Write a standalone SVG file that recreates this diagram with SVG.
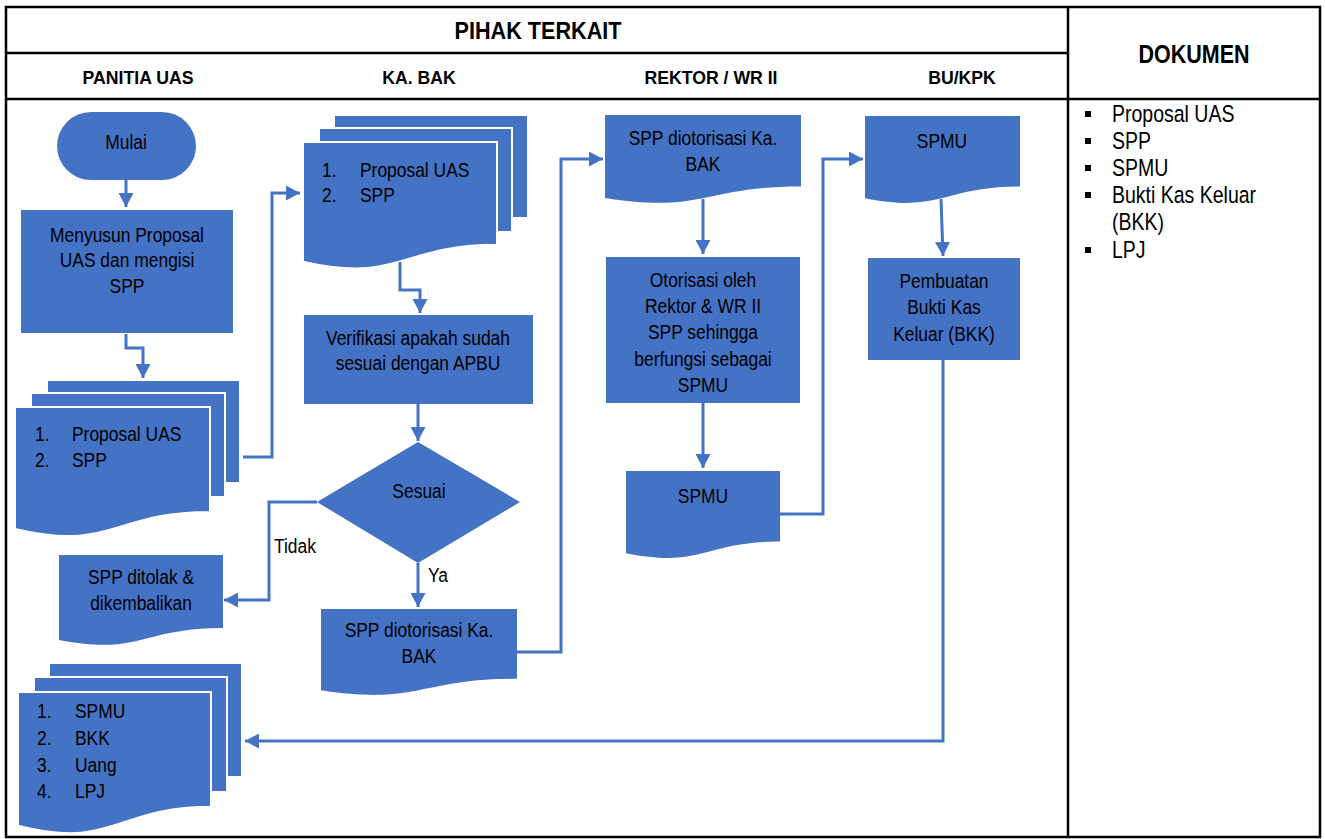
<svg xmlns="http://www.w3.org/2000/svg" width="1325" height="839" viewBox="0 0 1325 839">
<style>
.t{font-family:"Liberation Sans",Arial,sans-serif;font-size:21px;fill:#000}
.c{text-anchor:middle}
.b{font-weight:bold}
.n{fill:#4472C4;stroke:none}
.pg{fill:#4472C4;stroke:#fff;stroke-width:2}
.grid{fill:none;stroke:#000;stroke-width:2.5}
.cn{fill:none;stroke:#4472C4;stroke-width:3}
</style>
<defs>
<marker id="ah" markerUnits="userSpaceOnUse" viewBox="0 0 14 15" refX="14" refY="7.5" markerWidth="14" markerHeight="15" orient="auto">
<path d="M0,0 L14,7.5 L0,15 Z" fill="#4472C4"/>
</marker>
</defs>
<rect width="1325" height="839" fill="#fff"/>
<g id="table">
<rect class="grid" x="6" y="7" width="1314" height="830"/>
<line class="grid" x1="6" y1="53" x2="1068" y2="53"/>
<line class="grid" x1="6" y1="99" x2="1320" y2="99"/>
<line class="grid" x1="1068" y1="7" x2="1068" y2="837"/>
<text class="t c b" transform="matrix(0.94 0 0 1 538 39)" style="font-size:23px">PIHAK TERKAIT</text>
<text class="t c b" transform="matrix(0.86 0 0 1 1194 63)" style="font-size:25px">DOKUMEN</text>
<text class="t c b" transform="matrix(0.93 0 0 1 138 84)" style="font-size:19px">PANITIA UAS</text>
<text class="t c b" transform="matrix(0.93 0 0 1 419 84)" style="font-size:19px">KA. BAK</text>
<text class="t c b" transform="matrix(0.93 0 0 1 711 84)" style="font-size:19px">REKTOR / WR II</text>
<text class="t c b" transform="matrix(0.93 0 0 1 962 84)" style="font-size:19px">BU/KPK</text>
</g>
<g id="dokumen-list">
<rect x="1085" y="111" width="6" height="6" fill="#000"/>
<rect x="1085" y="138" width="6" height="6" fill="#000"/>
<rect x="1085" y="165" width="6" height="6" fill="#000"/>
<rect x="1085" y="192" width="6" height="6" fill="#000"/>
<rect x="1085" y="247" width="6" height="6" fill="#000"/>
<text class="t" transform="matrix(0.83 0 0 1 1112 122)" style="font-size:23.5px">Proposal UAS</text>
<text class="t" transform="matrix(0.83 0 0 1 1112 149)" style="font-size:23.5px">SPP</text>
<text class="t" transform="matrix(0.83 0 0 1 1112 176)" style="font-size:23.5px">SPMU</text>
<text class="t" transform="matrix(0.83 0 0 1 1112 203)" style="font-size:23.5px">Bukti Kas Keluar</text>
<text class="t" transform="matrix(0.83 0 0 1 1112 230)" style="font-size:23.5px">(BKK)</text>
<text class="t" transform="matrix(0.83 0 0 1 1112 258)" style="font-size:23.5px">LPJ</text>
</g>
<g id="mulai">
<rect class="n" x="57" y="112" width="139" height="68" rx="34" ry="34"/>
<text class="t c" transform="matrix(0.83 0 0 1 126 149)">Mulai</text>
</g>
<g id="menyusun">
<rect class="n" x="21" y="210" width="212" height="123"/>
<text class="t c" transform="matrix(0.83 0 0 1 127 242)">Menyusun Proposal</text>
<text class="t c" transform="matrix(0.83 0 0 1 127 267)">UAS dan mengisi</text>
<text class="t c" transform="matrix(0.83 0 0 1 127 293)">SPP</text>
</g>
<g id="stack1">
<rect class="pg" x="47" y="380" width="193" height="103"/>
<rect class="pg" x="31" y="393" width="194" height="104"/>
<path class="pg" d="M15,407 H210 V512 C112.5,512 112.5,552 15,529 Z"/>
<text class="t" transform="matrix(0.83 0 0 1 35 441)">1.</text>
<text class="t" transform="matrix(0.83 0 0 1 72 441)">Proposal UAS</text>
<text class="t" transform="matrix(0.83 0 0 1 35 467)">2.</text>
<text class="t" transform="matrix(0.83 0 0 1 72 467)">SPP</text>
</g>
<g id="stack2">
<rect class="pg" x="334" y="115" width="194" height="103"/>
<rect class="pg" x="319" y="128" width="193" height="104"/>
<path class="pg" d="M303,142 H497 V244.7 C400,244.7 400,283.8 303,261.6 Z"/>
<text class="t" transform="matrix(0.83 0 0 1 322 177)">1.</text>
<text class="t" transform="matrix(0.83 0 0 1 360 177)">Proposal UAS</text>
<text class="t" transform="matrix(0.83 0 0 1 322 202)">2.</text>
<text class="t" transform="matrix(0.83 0 0 1 360 202)">SPP</text>
</g>
<g id="verifikasi">
<rect class="n" x="304" y="315" width="229" height="89"/>
<text class="t c" transform="matrix(0.83 0 0 1 418 345)">Verifikasi apakah sudah</text>
<text class="t c" transform="matrix(0.83 0 0 1 418 370)">sesuai dengan APBU</text>
</g>
<g id="sesuai">
<path class="n" d="M418,442 L520,502 L418,563 L317,502 Z"/>
<text class="t c" transform="matrix(0.83 0 0 1 419 498)">Sesuai</text>
</g>
<g id="ditolak">
<path class="n" d="M59,555 H223 V628 C141,628 141,655.8 59,640 Z"/>
<text class="t c" transform="matrix(0.83 0 0 1 141 584)">SPP ditolak &amp;</text>
<text class="t c" transform="matrix(0.83 0 0 1 141 610)">dikembalikan</text>
</g>
<g id="otorisasi-kabak">
<path class="n" d="M321,609 H517 V678.8 C419,678.8 419,705.4 321,690.3 Z"/>
<text class="t c" transform="matrix(0.83 0 0 1 419 637)">SPP diotorisasi Ka.</text>
<text class="t c" transform="matrix(0.83 0 0 1 419 663)">BAK</text>
</g>
<g id="stack3">
<rect class="pg" x="49" y="663" width="193" height="114"/>
<rect class="pg" x="34" y="677" width="193" height="115"/>
<path class="pg" d="M18,692 H211 V806.7 C114.5,806.7 114.5,850.4 18,825.6 Z"/>
<text class="t" transform="matrix(0.83 0 0 1 37 718)">1.</text>
<text class="t" transform="matrix(0.83 0 0 1 75 718)">SPMU</text>
<text class="t" transform="matrix(0.83 0 0 1 37 745)">2.</text>
<text class="t" transform="matrix(0.83 0 0 1 75 745)">BKK</text>
<text class="t" transform="matrix(0.83 0 0 1 37 772)">3.</text>
<text class="t" transform="matrix(0.83 0 0 1 75 772)">Uang</text>
<text class="t" transform="matrix(0.83 0 0 1 37 798)">4.</text>
<text class="t" transform="matrix(0.83 0 0 1 75 798)">LPJ</text>
</g>
<g id="spp-rektor">
<path class="n" d="M605,115 H801 V186.4 C703,186.4 703,213.6 605,198.1 Z"/>
<text class="t c" transform="matrix(0.83 0 0 1 703 145)">SPP diotorisasi Ka.</text>
<text class="t c" transform="matrix(0.83 0 0 1 703 171)">BAK</text>
</g>
<g id="otorisasi-rektor">
<rect class="n" x="606" y="257" width="194" height="146"/>
<text class="t c" transform="matrix(0.83 0 0 1 703 287)">Otorisasi oleh</text>
<text class="t c" transform="matrix(0.83 0 0 1 703 313)">Rektor &amp; WR II</text>
<text class="t c" transform="matrix(0.83 0 0 1 703 339)">SPP sehingga</text>
<text class="t c" transform="matrix(0.83 0 0 1 703 366)">berfungsi sebagai</text>
<text class="t c" transform="matrix(0.83 0 0 1 703 392)">SPMU</text>
</g>
<g id="spmu-rektor">
<path class="n" d="M626,471 H780 V541.6 C703,541.6 703,568.5 626,553.2 Z"/>
<text class="t c" transform="matrix(0.83 0 0 1 703 503)">SPMU</text>
</g>
<g id="spmu-bu">
<path class="n" d="M865,116 H1020 V186.6 C942.5,186.6 942.5,213.5 865,198.2 Z"/>
<text class="t c" transform="matrix(0.83 0 0 1 942 148)">SPMU</text>
</g>
<g id="pembuatan">
<rect class="n" x="868" y="258" width="152" height="102"/>
<text class="t c" transform="matrix(0.83 0 0 1 944 288)">Pembuatan</text>
<text class="t c" transform="matrix(0.83 0 0 1 944 314)">Bukti Kas</text>
<text class="t c" transform="matrix(0.83 0 0 1 944 341)">Keluar (BKK)</text>
</g>
<g id="connectors">
<path class="cn" d="M126,180 V207" marker-end="url(#ah)"/>
<path class="cn" d="M126,334 V348 H143 V378" marker-end="url(#ah)"/>
<path class="cn" d="M243,457 H272 V193 H300" marker-end="url(#ah)"/>
<path class="cn" d="M400,262 V290 H420 V313" marker-end="url(#ah)"/>
<path class="cn" d="M418,404 V441" marker-end="url(#ah)"/>
<path class="cn" d="M317,502 H269 V600 H224" marker-end="url(#ah)"/>
<path class="cn" d="M418,563 V607" marker-end="url(#ah)"/>
<path class="cn" d="M517,652 H561 V159 H603" marker-end="url(#ah)"/>
<path class="cn" d="M703,199 V254" marker-end="url(#ah)"/>
<path class="cn" d="M703,403 V468" marker-end="url(#ah)"/>
<path class="cn" d="M780,514 H823 V159 H863" marker-end="url(#ah)"/>
<path class="cn" d="M941,199 L943,256" marker-end="url(#ah)"/>
<path class="cn" d="M943,360 V741 H245" marker-end="url(#ah)"/>
<text class="t" transform="matrix(0.83 0 0 1 274 553)">Tidak</text>
<text class="t" transform="matrix(0.83 0 0 1 428 582)">Ya</text>
</g>
</svg>
